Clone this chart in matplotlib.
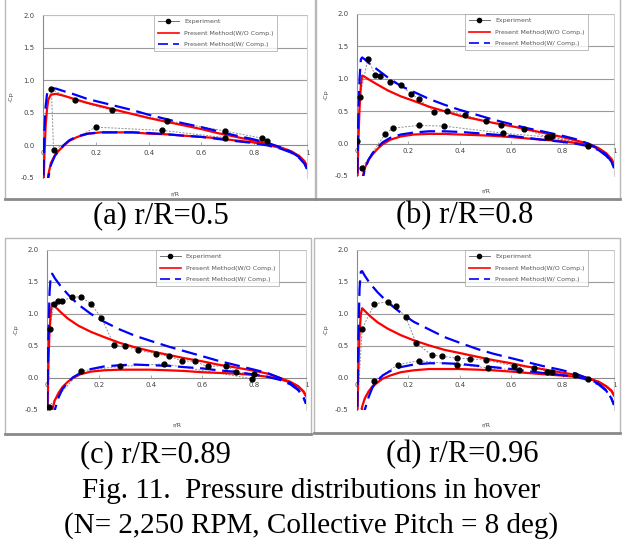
import matplotlib
matplotlib.use("Agg")
import matplotlib.pyplot as plt
from matplotlib.patches import Rectangle
from matplotlib.lines import Line2D

# chordwise stations (upper / lower surface)
x_up = [0.0, 0.005, 0.01, 0.015, 0.02, 0.03, 0.05, 0.08, 0.12, 0.17, 0.22, 0.28, 0.34,
        0.40, 0.47, 0.53, 0.60, 0.66, 0.72, 0.79, 0.85, 0.90, 0.94, 0.97, 0.99, 1.0]
x_lo = [0.01, 0.02, 0.03, 0.045, 0.06, 0.08, 0.10, 0.13, 0.17, 0.22, 0.28, 0.34, 0.40,
        0.47, 0.53, 0.60, 0.66, 0.72, 0.79, 0.85, 0.90, 0.94, 0.97, 0.99, 1.0]

# (a) r/R = 0.5
a_red_up = [-1.0, -0.2, 0.3, 0.55, 0.7, 0.78, 0.79, 0.76, 0.71, 0.65, 0.60, 0.54, 0.48,
            0.42, 0.36, 0.31, 0.25, 0.19, 0.14, 0.08, 0.03, -0.03, -0.09, -0.16, -0.24, -0.32]
a_blue_up = [-0.8, 0.2, 0.6, 0.78, 0.86, 0.88, 0.87, 0.83, 0.78, 0.71, 0.66, 0.60, 0.54,
             0.47, 0.40, 0.34, 0.28, 0.22, 0.16, 0.10, 0.04, -0.03, -0.10, -0.18, -0.27, -0.36]
a_red_lo = [-0.9, -0.45, -0.27, -0.15, -0.08, 0.0, 0.07, 0.13, 0.18, 0.20, 0.20, 0.20, 0.18,
            0.17, 0.15, 0.13, 0.11, 0.08, 0.05, 0.01, -0.04, -0.10, -0.17, -0.25, -0.32]
a_blue_lo = [-1.0, -0.5, -0.3, -0.16, -0.08, 0.01, 0.08, 0.14, 0.18, 0.20, 0.20, 0.20, 0.19,
             0.17, 0.15, 0.13, 0.10, 0.07, 0.04, 0.0, -0.05, -0.11, -0.19, -0.28, -0.36]
a_exp_x = [0.85, 0.83, 0.69, 0.47, 0.26, 0.12, 0.032, 0.04, 0.20, 0.45, 0.69]
a_exp_y = [0.07, 0.11, 0.22, 0.38, 0.54, 0.69, 0.86, -0.07, 0.28, 0.23, 0.12]

# (b) r/R = 0.8
b_red_up = [-1.0, 0.0, 0.55, 0.9, 1.05, 1.03, 0.98, 0.91, 0.82, 0.73, 0.66, 0.57, 0.50,
            0.43, 0.37, 0.32, 0.27, 0.22, 0.17, 0.11, 0.05, 0.0, -0.07, -0.15, -0.24, -0.32]
b_blue_up = [-0.8, 0.4, 1.0, 1.3, 1.33, 1.30, 1.23, 1.14, 1.02, 0.89, 0.80, 0.69, 0.60,
             0.52, 0.44, 0.37, 0.30, 0.24, 0.19, 0.13, 0.07, 0.0, -0.08, -0.17, -0.28, -0.38]
b_red_lo = [-1.0, -0.55, -0.38, -0.25, -0.17, -0.08, -0.01, 0.06, 0.11, 0.14, 0.15, 0.15, 0.14,
            0.13, 0.12, 0.10, 0.08, 0.06, 0.04, 0.01, -0.02, -0.08, -0.16, -0.24, -0.32]
b_blue_lo = [-1.0, -0.6, -0.4, -0.25, -0.15, -0.06, 0.02, 0.09, 0.14, 0.17, 0.19, 0.19, 0.18,
             0.16, 0.14, 0.12, 0.09, 0.06, 0.03, 0.0, -0.04, -0.10, -0.19, -0.28, -0.38]
b_exp_x = [0.0, 0.01, 0.043, 0.07, 0.09, 0.13, 0.17, 0.21, 0.24, 0.30, 0.35, 0.42, 0.50,
           0.56, 0.65, 0.74, 0.76, 0.90, 0.75, 0.57, 0.34, 0.24, 0.14, 0.11, 0.02]
b_exp_y = [0.04, 0.72, 1.31, 1.06, 1.05, 0.95, 0.90, 0.77, 0.69, 0.49, 0.51, 0.44, 0.35,
           0.29, 0.23, 0.10, 0.11, -0.03, 0.10, 0.16, 0.27, 0.28, 0.24, 0.15, -0.37]

# (c) r/R = 0.89
c_red_up = [-1.0, 0.2, 0.75, 1.05, 1.17, 1.12, 1.04, 0.93, 0.82, 0.72, 0.64, 0.55, 0.48,
            0.42, 0.36, 0.31, 0.26, 0.21, 0.17, 0.12, 0.07, 0.0, -0.06, -0.13, -0.21, -0.28]
c_blue_up = [-0.8, 0.6, 1.35, 1.62, 1.63, 1.56, 1.45, 1.31, 1.15, 1.00, 0.88, 0.76, 0.66,
             0.58, 0.49, 0.42, 0.34, 0.27, 0.21, 0.14, 0.08, 0.0, -0.08, -0.18, -0.30, -0.40]
c_red_lo = [-1.0, -0.5, -0.35, -0.23, -0.14, -0.06, 0.0, 0.06, 0.10, 0.12, 0.13, 0.13, 0.13,
            0.12, 0.11, 0.09, 0.08, 0.07, 0.05, 0.02, -0.02, -0.07, -0.13, -0.21, -0.28]
c_blue_lo = [-1.0, -0.8, -0.5, -0.3, -0.17, -0.07, 0.01, 0.08, 0.14, 0.18, 0.20, 0.21, 0.20,
             0.19, 0.17, 0.15, 0.12, 0.10, 0.06, 0.02, -0.03, -0.10, -0.19, -0.30, -0.40]
c_exp_x = [0.80, 0.73, 0.69, 0.62, 0.57, 0.52, 0.47, 0.42, 0.35, 0.30, 0.26, 0.21, 0.17,
           0.13, 0.096, 0.059, 0.041, 0.026, 0.01, 0.006, 0.13, 0.28, 0.45, 0.79]
c_exp_y = [0.06, 0.10, 0.19, 0.18, 0.26, 0.27, 0.34, 0.38, 0.44, 0.50, 0.51, 0.94, 1.16,
           1.27, 1.26, 1.21, 1.21, 1.16, 0.76, -0.45, 0.11, 0.18, 0.22, -0.01]

# (d) r/R = 0.96
d_red_up = [-1.0, 0.1, 0.7, 1.0, 1.09, 1.05, 0.97, 0.87, 0.77, 0.67, 0.59, 0.51, 0.44,
            0.39, 0.33, 0.28, 0.23, 0.18, 0.14, 0.09, 0.05, 0.0, -0.06, -0.13, -0.20, -0.27]
d_blue_up = [-0.8, 0.6, 1.4, 1.66, 1.67, 1.60, 1.48, 1.34, 1.18, 1.02, 0.88, 0.76, 0.64,
             0.55, 0.45, 0.38, 0.31, 0.25, 0.19, 0.13, 0.07, -0.01, -0.09, -0.19, -0.32, -0.42]
d_red_lo = [-1.0, -0.45, -0.32, -0.21, -0.13, -0.07, -0.01, 0.04, 0.09, 0.12, 0.14, 0.14, 0.14,
            0.13, 0.12, 0.10, 0.08, 0.06, 0.04, 0.02, -0.01, -0.06, -0.13, -0.20, -0.27]
d_blue_lo = [-1.0, -0.8, -0.5, -0.3, -0.15, -0.04, 0.04, 0.11, 0.17, 0.21, 0.23, 0.23, 0.22,
             0.19, 0.17, 0.14, 0.11, 0.08, 0.05, 0.02, -0.03, -0.10, -0.20, -0.32, -0.42]
d_exp_x = [0.90, 0.85, 0.76, 0.74, 0.69, 0.61, 0.50, 0.44, 0.39, 0.33, 0.29, 0.23, 0.19,
           0.15, 0.12, 0.068, 0.02, 0.0, 0.068, 0.16, 0.24, 0.39, 0.51, 0.63]
d_exp_y = [-0.02, 0.04, 0.09, 0.10, 0.16, 0.19, 0.28, 0.30, 0.31, 0.34, 0.36, 0.55, 0.95,
           1.12, 1.19, 1.16, 0.77, -0.6, -0.04, 0.21, 0.27, 0.21, 0.16, 0.12]

labels = ["(a) r/R=0.5", "(b) r/R=0.8", "(c) r/R=0.89", "(d) r/R=0.96"]
leg_labels = ["Experiment", "Present Method(W/O Comp.)", "Present Method(W/ Comp.)"]

W, H = 622, 551
fig = plt.figure(figsize=(W / 100, H / 100), dpi=100)


def fbox(x0, y0, x1, y1):
    # pixel box (top-left origin) -> figure fraction [l, b, w, h]
    return [x0 / W, 1 - y1 / H, (x1 - x0) / W, (y1 - y0) / H]


frames = [(5, -3, 315, 199), (316, -3, 620, 199), (5, 238, 311, 434), (314, 238, 620, 433)]
axboxes = [(43, 15, 307, 178), (357, 14, 614, 176), (47, 250, 306, 410), (357, 250, 614, 410)]
cap_pos = [(161, 216), (465, 216), (155, 455), (462, 455)]

panels = [
    (a_red_up, a_blue_up, a_red_lo, a_blue_lo, a_exp_x, a_exp_y),
    (b_red_up, b_blue_up, b_red_lo, b_blue_lo, b_exp_x, b_exp_y),
    (c_red_up, c_blue_up, c_red_lo, c_blue_lo, c_exp_x, c_exp_y),
    (d_red_up, d_blue_up, d_red_lo, d_blue_lo, d_exp_x, d_exp_y),
]

for i, (ru, bu, rl, bl, ex, ey) in enumerate(panels):
    x0, y0, x1, y1 = frames[i]
    l, b, w, h = fbox(x0, y0, x1, y1)
    fig.patches.append(Rectangle((l, b), w, h, transform=fig.transFigure,
                                 fill=False, edgecolor="#b8b8b8", lw=1.0))
    fig.lines.append(Line2D([l, l + w], [b, b], transform=fig.transFigure,
                            color="#8a8a8a", lw=2.0))

    ax = fig.add_axes(fbox(*axboxes[i]))
    ax.set_xlim(0, 1)
    ax.set_ylim(-0.5, 2.0)
    for yg in [0.5, 1.0, 1.5, 2.0]:
        ax.axhline(yg, color="#9a9a9a", lw=0.8, zorder=0)
    ax.axhline(-0.5, color="#e4e4e4", lw=0.6, zorder=0)

    ax.plot(ex, ey, color="#909090", lw=0.7, ls=(0, (2, 1.5)), zorder=2)
    ax.plot(ex, ey, "o", color="black", ms=3.5, zorder=5)
    ax.plot(x_up, ru, color="#ff0000", lw=1.6, zorder=3)
    ax.plot(x_lo, rl, color="#ff0000", lw=1.6, zorder=3)
    ax.plot(x_up, bu, color="#0000ff", lw=1.6, ls=(0, (7, 3)), zorder=4)
    ax.plot(x_lo, bl, color="#0000ff", lw=1.6, ls=(0, (7, 3)), zorder=4)

    for s in ["top", "right"]:
        ax.spines[s].set_color("#c8c8c8")
        ax.spines[s].set_linewidth(0.6)
    ax.spines["left"].set_color("#8a8a8a")
    ax.spines["left"].set_linewidth(0.8)
    ax.spines["bottom"].set_position(("data", 0))
    ax.spines["bottom"].set_color("#8a8a8a")
    ax.spines["bottom"].set_linewidth(0.8)

    ax.set_xticks([0, 0.2, 0.4, 0.6, 0.8, 1.0])
    ax.set_xticklabels(["0", "0.2", "0.4", "0.6", "0.8", "1"])
    ax.set_yticks([-0.5, 0.0, 0.5, 1.0, 1.5, 2.0])
    ax.set_yticklabels(["-0.5", "0.0", "0.5", "1.0", "1.5", "2.0"])
    ax.tick_params(axis="x", direction="in", length=2, width=0.5, color="#8a8a8a",
                   labelsize=5, labelcolor="#444444", pad=3)
    ax.tick_params(axis="y", length=0, labelsize=5, labelcolor="#444444", pad=6)

    ax.text(0.5, -0.08, "r/R", transform=ax.transAxes, ha="center", va="top",
            fontsize=4.5, color="#444444")
    ax.text(-0.12, 0.5, "-Cp", transform=ax.transAxes, ha="center", va="center",
            rotation=90, fontsize=4.5, color="#444444")

    handles = [
        Line2D([], [], color="#707070", lw=0.7, marker="o", ms=3, mfc="black", mec="black"),
        Line2D([], [], color="#ff0000", lw=1.2),
        Line2D([], [], color="#0000ff", lw=1.2, ls=(0, (6, 3))),
    ]
    leg = ax.legend(handles, leg_labels, loc="upper left", bbox_to_anchor=(0.42, 1.0),
                    fontsize=4.5, frameon=True, fancybox=False, edgecolor="#a0a0a0",
                    handlelength=3.4, borderpad=0.6, labelspacing=1.0, borderaxespad=0)
    leg.get_frame().set_linewidth(0.6)
    for t in leg.get_texts():
        t.set_color("#555555")

    cx, cy = cap_pos[i]
    fig.text(cx / W, 1 - cy / H, labels[i], ha="center", va="center",
             family="Liberation Serif", fontsize=22)

fig.text(311 / W, 1 - 491 / H, "Fig. 11.  Pressure distributions in hover",
         ha="center", va="center", family="Liberation Serif", fontsize=21)
fig.text(311 / W, 1 - 526 / H, "(N= 2,250 RPM, Collective Pitch = 8 deg)",
         ha="center", va="center", family="Liberation Serif", fontsize=21)

fig.savefig("out.png", dpi=100)
